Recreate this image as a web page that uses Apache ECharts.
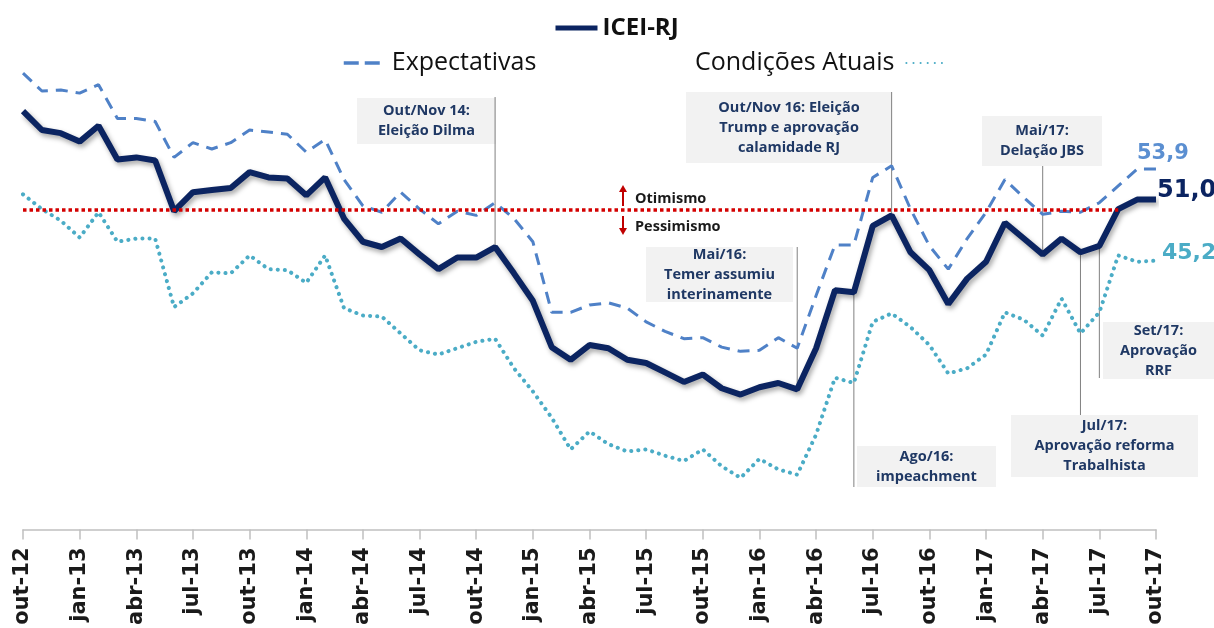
<!DOCTYPE html>
<html>
<head>
<meta charset="utf-8">
<script src="https://cdn.jsdelivr.net/npm/echarts@6/dist/echarts.min.js"></script>
<style>
  html, body { margin: 0; padding: 0; background: #fff; }
  #chart { width: 1214px; height: 628px; }
</style>
</head>
<body>
<div id="chart"></div>
<script>
// meses (out-12 a out-17)
const categorias = [
  'out-12', 'nov-12', 'dez-12',
  'jan-13', 'fev-13', 'mar-13', 'abr-13', 'mai-13', 'jun-13', 'jul-13', 'ago-13', 'set-13', 'out-13', 'nov-13', 'dez-13',
  'jan-14', 'fev-14', 'mar-14', 'abr-14', 'mai-14', 'jun-14', 'jul-14', 'ago-14', 'set-14', 'out-14', 'nov-14', 'dez-14',
  'jan-15', 'fev-15', 'mar-15', 'abr-15', 'mai-15', 'jun-15', 'jul-15', 'ago-15', 'set-15', 'out-15', 'nov-15', 'dez-15',
  'jan-16', 'fev-16', 'mar-16', 'abr-16', 'mai-16', 'jun-16', 'jul-16', 'ago-16', 'set-16', 'out-16', 'nov-16', 'dez-16',
  'jan-17', 'fev-17', 'mar-17', 'abr-17', 'mai-17', 'jun-17', 'jul-17', 'ago-17', 'set-17', 'out-17'
]

const icei = [
  59.4, 57.6, 57.3, 56.5, 58.0, 54.8, 55.0, 54.7, 49.9, 51.7,
  51.9, 52.1, 53.6, 53.1, 53.0, 51.4, 53.1, 49.2, 47.0, 46.5,
  47.3, 45.8, 44.4, 45.5, 45.5, 46.5, 44.0, 41.4, 37.0, 35.8,
  37.2, 36.9, 35.8, 35.5, 34.6, 33.7, 34.4, 33.1, 32.5, 33.2,
  33.6, 33.0, 36.9, 42.4, 42.2, 48.5, 49.5, 46.0, 44.3, 41.1,
  43.5, 45.1, 48.8, 47.3, 45.8, 47.3, 46.0, 46.6, 50.1, 51.0,
  51.0
]

const expectativas = [
  63.0, 61.3, 61.4, 61.1, 61.9, 58.7, 58.7, 58.4, 55.0, 56.4,
  55.8, 56.4, 57.6, 57.4, 57.2, 55.5, 56.7, 52.9, 50.4, 49.8,
  51.7, 50.1, 48.7, 49.9, 49.5, 50.7, 49.2, 47.0, 40.3, 40.3,
  41.0, 41.2, 40.7, 39.4, 38.5, 37.8, 37.9, 37.0, 36.6, 36.7,
  37.9, 36.9, 41.9, 46.7, 46.7, 53.1, 54.2, 50.1, 46.6, 44.4,
  47.3, 49.8, 52.9, 51.2, 49.6, 49.9, 49.8, 50.7, 52.3, 53.9,
  53.9
]

const condicoes = [
  51.5, 50.1, 49.0, 47.4, 49.8, 47.0, 47.3, 47.3, 40.8, 42.1,
  44.1, 44.0, 45.7, 44.4, 44.3, 43.1, 45.7, 40.7, 40.0, 39.9,
  38.3, 36.7, 36.3, 36.9, 37.5, 37.8, 35.0, 32.8, 30.3, 27.3,
  29.0, 27.8, 27.1, 27.3, 26.7, 26.2, 27.3, 25.7, 24.6, 26.4,
  25.4, 24.9, 28.7, 34.1, 33.6, 39.4, 40.2, 38.9, 37.2, 34.5,
  35.0, 36.3, 40.3, 39.6, 38.1, 41.6, 38.3, 40.3, 45.7, 45.1,
  45.2
]

// linha de referência 50 pontos
const linhaNeutra = 50

// anotações: índice do mês ligado e texto
const anotacoes = [
  { idx: 25, texto: 'Out/Nov 14:\nEleição Dilma', box: [357, 98, 139, 46], ateY: 97 },
  { idx: 46, texto: 'Out/Nov 16: Eleição\nTrump e aprovação\ncalamidade RJ', box: [686, 92, 206, 71], ateY: 92 },
  { idx: 41, texto: 'Mai/16:\nTemer assumiu\ninterinamente', box: [646, 247, 147, 55], ateY: 247 },
  { idx: 44, texto: 'Ago/16:\nimpeachment', box: [857, 446, 139, 41], ateY: 487 },
  { idx: 54, texto: 'Mai/17:\nDelação JBS', box: [982, 116, 120, 50], ateY: 166 },
  { idx: 56, texto: 'Jul/17:\nAprovação reforma\nTrabalhista', box: [1011, 415, 187, 62], ateY: 415 },
  { idx: 57, texto: 'Set/17:\nAprovação\nRRF', box: [1103, 322, 111, 57], ateY: 378 }
]

const fmt = (v) => v.toFixed(1).replace('.', ',')

const chart = echarts.init(document.getElementById('chart'))

const option = {
  animation: false,
  backgroundColor: '#fff',
  grid: { left: 23, right: 58, top: 52, bottom: 96 },
  legend: [
    {
      data: ['ICEI-RJ'],
      left: 553, top: 13, padding: 0,
      itemWidth: 42, itemHeight: 14,
      selectedMode: false,
      itemStyle: { opacity: 0 },
      lineStyle: { width: 5, shadowBlur: 0, shadowOffsetX: 0, shadowOffsetY: 0 },
      textStyle: { fontFamily: 'Open Sans', fontWeight: 'bold', fontSize: 24, color: '#111', lineHeight: 30 }
    },
    {
      data: ['Expectativas'],
      left: 342, top: 48, padding: 0,
      itemWidth: 36, itemHeight: 14,
      selectedMode: false,
      itemStyle: { opacity: 0 },
      lineStyle: { type: [15, 6], width: 3.5 },
      textStyle: { fontFamily: 'Open Sans', fontSize: 25, color: '#111', lineHeight: 30, padding: [0, 0, 0, 7] }
    },
    {
      data: ['Condições Atuais'],
      left: 695, top: 48, padding: 0,
      align: 'right',
      itemWidth: 40, itemHeight: 14,
      selectedMode: false,
      itemStyle: { opacity: 0 },
      textStyle: { fontFamily: 'Open Sans', fontSize: 25, color: '#111', lineHeight: 30, padding: [0, 7, 0, 0] }
    }
  ],
  xAxis: {
    type: 'category',
    boundaryGap: false,
    data: categorias,
    axisLine: { lineStyle: { color: '#c0c0c0', width: 1.5 } },
    axisTick: { interval: 2, length: 10, lineStyle: { color: '#c0c0c0', width: 1.5 } },
    axisLabel: {
      interval: 2,
      rotate: 90,
      margin: 18,
      fontFamily: 'DejaVu Sans',
      fontWeight: 'bold',
      fontSize: 21,
      color: '#1a1a1a'
    }
  },
  yAxis: {
    type: 'value',
    min: 19.7,
    max: 65,
    show: false,
    splitLine: { show: false }
  },
  series: [
    {
      name: 'Condições Atuais',
      type: 'line',
      z: 2,
      data: condicoes,
      symbol: 'none',
      lineStyle: { color: '#4bacc6', width: 4, type: [0.1, 7], cap: 'round' },
      itemStyle: { color: '#4bacc6' },
      endLabel: {
        show: true,
        formatter: (p) => fmt(p.value),
        distance: 0,
        offset: [6, -7],
        fontFamily: 'DejaVu Sans',
        fontWeight: 'bold',
        fontSize: 22,
        color: '#4bacc6'
      },
      markLine: {
        silent: true,
        symbol: ['none', 'none'],
        label: { show: false },
        lineStyle: { color: '#d40000', width: 3.5, type: [3.5, 3] },
        data: [[{ xAxis: 0, yAxis: linhaNeutra }, { xAxis: 58, yAxis: linhaNeutra }]]
      }
    },
    {
      name: 'Expectativas',
      type: 'line',
      z: 3,
      data: expectativas,
      symbol: 'none',
      lineStyle: { color: '#4f81c7', width: 3, type: [12, 8] },
      itemStyle: { color: '#4f81c7' },
      endLabel: {
        show: true,
        formatter: (p) => fmt(p.value),
        distance: 0,
        offset: [-19, -15],
        fontFamily: 'DejaVu Sans',
        fontWeight: 'bold',
        fontSize: 21,
        color: '#5b8fd1'
      }
    },
    {
      name: 'ICEI-RJ',
      type: 'line',
      z: 4,
      data: icei,
      symbol: 'none',
      lineStyle: {
        color: '#0b2461', width: 6,
        shadowColor: 'rgba(0,0,0,0.35)', shadowBlur: 5, shadowOffsetX: 2, shadowOffsetY: 3
      },
      itemStyle: { color: '#0b2461' },
      endLabel: {
        show: true,
        formatter: (p) => fmt(p.value),
        distance: 1,
        offset: [0, -9],
        fontFamily: 'DejaVu Sans',
        fontWeight: 'bold',
        fontSize: 24,
        color: '#0b2461'
      }
    }
  ]
}

chart.setOption(option)

// anotações (caixas + linhas de ligação) e setas otimismo/pessimismo
const graficos = []
anotacoes.forEach((a) => {
  const p = chart.convertToPixel({ seriesIndex: 2 }, [a.idx, icei[a.idx]])
  graficos.push({
    type: 'line', z: 1, silent: true,
    shape: { x1: p[0], y1: p[1], x2: p[0], y2: a.ateY },
    style: { stroke: '#808080', lineWidth: 1 }
  })
  const [bx, by, bw, bh] = a.box
  graficos.push({
    type: 'rect', z: 0, silent: true,
    shape: { x: bx, y: by, width: bw, height: bh },
    style: { fill: '#f2f2f2' }
  })
  graficos.push({
    type: 'text', z: 1, silent: true,
    x: bx + bw / 2, y: by + bh / 2,
    style: {
      text: a.texto,
      align: 'center', verticalAlign: 'middle',
      font: 'bold 14.5px "Open Sans"',
      lineHeight: 20,
      fill: '#1f3864'
    }
  })
})

const pNeutro = chart.convertToPixel({ seriesIndex: 2 }, [32, linhaNeutra])
const ax = 623
graficos.push(
  { type: 'line', silent: true, shape: { x1: ax, y1: pNeutro[1] - 4, x2: ax, y2: pNeutro[1] - 20 }, style: { stroke: '#c00000', lineWidth: 2 } },
  { type: 'polygon', silent: true, shape: { points: [[ax - 4, pNeutro[1] - 18], [ax, pNeutro[1] - 25], [ax + 4, pNeutro[1] - 18]] }, style: { fill: '#c00000' } },
  { type: 'line', silent: true, shape: { x1: ax, y1: pNeutro[1] + 6, x2: ax, y2: pNeutro[1] + 20 }, style: { stroke: '#c00000', lineWidth: 2 } },
  { type: 'polygon', silent: true, shape: { points: [[ax - 4, pNeutro[1] + 18], [ax, pNeutro[1] + 25], [ax + 4, pNeutro[1] + 18]] }, style: { fill: '#c00000' } },
  {
    type: 'text', silent: true, x: 635, y: pNeutro[1] - 11,
    style: { text: 'Otimismo', font: 'bold 14.5px "Open Sans"', fill: '#1a1a1a', verticalAlign: 'middle' }
  },
  {
    type: 'text', silent: true, x: 635, y: pNeutro[1] + 17,
    style: { text: 'Pessimismo', font: 'bold 14.5px "Open Sans"', fill: '#1a1a1a', verticalAlign: 'middle' }
  }
)

chart.setOption({ graphic: graficos })
</script>
</body>
</html>
